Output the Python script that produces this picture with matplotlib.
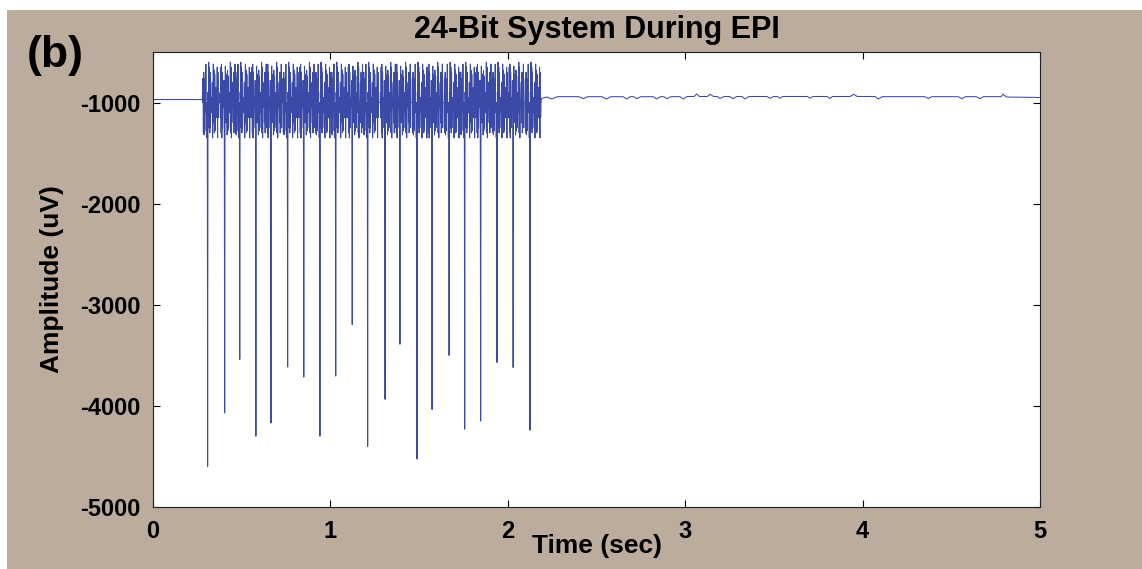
import matplotlib
matplotlib.use('Agg')
import matplotlib.pyplot as plt
import numpy as np
from matplotlib.patches import Rectangle

plt.rcParams['font.family'] = ['Liberation Sans', 'DejaVu Sans']
plt.rcParams['font.weight'] = 'bold'
plt.rcParams['axes.unicode_minus'] = False

# gradient spikes (one per slice): time (s) and bottom value (uV)
spike_times = [0.308, 0.404, 0.489, 0.580, 0.665, 0.759, 0.850, 0.941, 1.030, 1.123,
               1.210, 1.308, 1.392, 1.488, 1.573, 1.669, 1.757, 1.847, 1.939, 2.030, 2.125]
spike_depths = [-4600, -4070, -3540, -4300, -4170, -3615, -3715, -4300, -3705, -3195,
                -4400, -3935, -3390, -4525, -4035, -3500, -4230, -4150, -3570, -3620, -4240]

# oscillation inside one slice, offsets relative to the spike (s)
slice_offsets = [-0.028, -0.026, -0.024, -0.022, -0.020, -0.018, -0.016, -0.014, -0.012, -0.010,
                 -0.008, -0.006, -0.004, -0.002, 0.000, 0.002, 0.004, 0.006, 0.008, 0.010,
                 0.012, 0.014, 0.016, 0.018, 0.020, 0.022, 0.024, 0.026, 0.028, 0.030,
                 0.032, 0.034, 0.036, 0.038, 0.040, 0.042, 0.044, 0.046, 0.048, 0.050,
                 0.052, 0.054, 0.056, 0.058, 0.060, 0.062]
slice_a = [-1000, -760, -1300, -700, -1320, -760, -1280, -980, -1050, -620,
           -1100, -1000, -1350, -1000, None, -900, -1000, -600, -1250, -650,
           -1300, -700, -1250, -1000, -1100, -950, -1050, -800, -1350, -1000,
           -620, -1200, -680, -1300, -720, -1280, -1000, -1000, -850, -1150,
           -1000, -650, -1350, -700, -1150, -1000]
slice_b = [-1000, -900, -1150, -650, -1300, -620, -1350, -700, -1250, -1000,
           -950, -1050, -780, -1300, None, -1000, -640, -1200, -980, -1050,
           -720, -1320, -680, -1280, -740, -1250, -1000, -1100, -900, -1000,
           -600, -1300, -650, -1350, -1000, -1050, -950, -800, -1200, -700,
           -1300, -1000, -1080, -620, -1250, -1000]
slice_pattern = [0, 1, 0, 1, 1, 0, 1, 0, 0, 1, 0, 1, 1, 0, 1, 0, 0, 1, 0, 1, 0]

# baseline before and after the EPI burst
pre_times = [0.0, 0.28]
pre_vals = [-970, -970]
post_times = [2.19, 2.22, 2.247, 2.28, 2.40, 2.426, 2.45, 2.53, 2.557, 2.58,
              2.65, 2.67, 2.69, 2.71, 2.727, 2.75, 2.82, 2.839, 2.86, 2.88,
              2.896, 2.92, 2.97, 2.989, 3.01, 3.05, 3.065, 3.08, 3.125, 3.14,
              3.16, 3.18, 3.196, 3.22, 3.25, 3.271, 3.29, 3.32, 3.337, 3.36,
              3.46, 3.478, 3.50, 3.52, 3.534, 3.55, 3.69, 3.703, 3.72, 3.80,
              3.816, 3.83, 3.93, 3.948, 3.97, 4.07, 4.089, 4.11, 4.35, 4.370,
              4.39, 4.54, 4.559, 4.58, 4.64, 4.662, 4.68, 4.78, 4.793, 4.81, 5.0]
post_vals = [-960, -945, -965, -942, -942, -962, -942, -942, -965, -942,
             -942, -965, -942, -942, -962, -942, -942, -965, -942, -942,
             -962, -942, -942, -965, -940, -940, -915, -940, -940, -918,
             -940, -940, -960, -940, -940, -962, -940, -940, -965, -940,
             -940, -958, -940, -940, -958, -940, -940, -958, -940, -940,
             -960, -940, -940, -918, -940, -940, -965, -942, -942, -960,
             -942, -942, -962, -942, -942, -962, -942, -942, -918, -945, -950]

xticks = [0, 1, 2, 3, 4, 5]
yticks = [-5000, -4000, -3000, -2000, -1000]

# assemble the trace
t = list(pre_times)
v = list(pre_vals)
templates = [slice_a, slice_b]
for ts, depth, p in zip(spike_times, spike_depths, slice_pattern):
    for off, val in zip(slice_offsets, templates[p]):
        t.append(ts + off)
        v.append(depth if val is None else val)
t += post_times
v += post_vals

fig = plt.figure(figsize=(11.42, 5.69), dpi=100)
fig.patch.set_facecolor('white')
fig.patches.append(Rectangle((7/1142, 0), 1, 1 - 10/569, transform=fig.transFigure,
                             facecolor='#bcac9d', edgecolor='none', zorder=-10))

ax = fig.add_axes([153/1142, 1 - 507/569, (1040-153)/1142, (507-52)/569])
ax.set_facecolor('white')
ax.plot(t, v, color='#3a4aa6', lw=0.75)

ax.set_xlim(0, 5)
ax.set_ylim(-5000, -500)
ax.set_xticks(xticks)
ax.set_yticks(yticks)
ax.tick_params(direction='in', top=True, right=True, length=5, width=0.8,
               labelsize=17, colors='black')
ax.tick_params(axis='x', pad=9)
ax.tick_params(axis='y', pad=9)
for s in ax.spines.values():
    s.set_linewidth(0.8)
    s.set_color('#222222')

ax.set_title('24-Bit System During EPI', fontsize=22, fontweight='bold', pad=10)
ax.set_ylabel('Amplitude (uV)', fontsize=19, fontweight='bold')
ax.yaxis.set_label_coords(-0.100, 0.5)
ax.set_xlabel('Time (sec)', fontsize=19, fontweight='bold')
ax.xaxis.set_label_coords(0.5, -0.06)
fig.text(27/1142, 1 - 55/569, '(b)', fontsize=32, fontweight='bold', va='center', ha='left')

fig.savefig('out.png', dpi=100, facecolor=fig.get_facecolor())
